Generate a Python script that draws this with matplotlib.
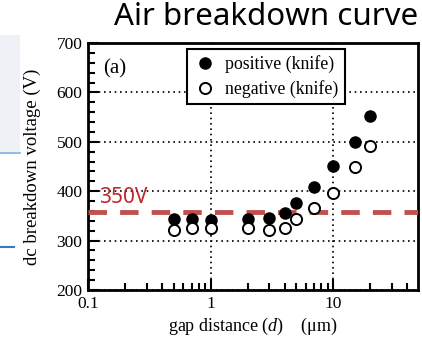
import matplotlib
matplotlib.use("Agg")
import matplotlib.pyplot as plt
from matplotlib.patches import Rectangle
from matplotlib.lines import Line2D
from matplotlib.ticker import LogLocator, MultipleLocator, FixedLocator, FixedFormatter

# data
gap_um = [0.5, 0.7, 1.0, 2.0, 3.0, 4.0, 5.0, 7.0, 10.0, 15.0, 20.0]
v_positive = [344, 344, 342, 344, 346, 356, 377, 408, 452, 500, 553]
v_negative = [321, 325, 325, 325, 321, 325, 343, 365, 396, 450, 492]
threshold_v = 357
threshold_label = "350V"

xticks = [0.1, 1, 10]
xtick_labels = ["0.1", "1", "10"]

plt.rcParams["mathtext.fontset"] = "custom"
plt.rcParams["mathtext.it"] = "Liberation Serif:italic"
plt.rcParams["mathtext.rm"] = "Liberation Serif"

W, H = 422, 339
fig = plt.figure(figsize=(W / 100, H / 100), dpi=100)
ax = fig.add_axes([88 / W, 1 - 290 / H, 330 / W, 247 / H])

serif = ["Liberation Serif", "DejaVu Serif"]

ax.plot(gap_um, v_positive, "o", color="black", markersize=8,
        label="positive (knife)", zorder=4)
ax.plot(gap_um, v_negative, "o", markerfacecolor="white", markeredgecolor="black",
        markeredgewidth=1.4, markersize=8, label="negative (knife)", zorder=4)

ax.axhline(threshold_v, color="#c0504d", lw=3.5, dashes=(3.8, 2.7), zorder=3)
ax.text(0.123, threshold_v + 8, threshold_label, color="#c0282d", fontsize=15,
        family="Noto Sans", va="bottom", ha="left")

ax.set_xscale("log")
ax.set_xlim(0.1, 49)
ax.set_ylim(200, 700)
ax.xaxis.set_major_locator(FixedLocator(xticks))
ax.xaxis.set_major_formatter(FixedFormatter(xtick_labels))
ax.xaxis.set_minor_locator(LogLocator(base=10, subs=range(2, 10)))
ax.xaxis.set_minor_formatter(plt.NullFormatter())
ax.yaxis.set_major_locator(MultipleLocator(100))
ax.yaxis.set_minor_locator(MultipleLocator(20))

ax.grid(True, which="major", color="black", linestyle=(0, (1, 2.2)), lw=1.2)
ax.set_axisbelow(True)

ax.tick_params(which="both", direction="in", top=False, right=False, width=1.5)
ax.tick_params(which="major", length=8, labelsize=12.5, pad=4)
ax.tick_params(which="minor", length=5)
for lab in ax.get_xticklabels() + ax.get_yticklabels():
    lab.set_family(serif)
for sp in ax.spines.values():
    sp.set_linewidth(2)

ax.set_ylabel("dc breakdown voltage (V)", family=serif, fontsize=13.5, labelpad=11)
ax.set_xlabel("gap distance ($\\it{d}$)    (\u03bcm)", family=serif, fontsize=13, labelpad=3)
ax.text(0.045, 0.935, "(a)", transform=ax.transAxes, family=serif, fontsize=15,
        va="top", ha="left")

leg = ax.legend(loc="upper left", bbox_to_anchor=(187 / W, 1 - 49 / H),
                bbox_transform=fig.transFigure, prop={"family": serif, "size": 12.8},
                fancybox=False, frameon=True, borderpad=0.35, handletextpad=0.5,
                labelspacing=0.4, handlelength=1.3, borderaxespad=0)
leg.get_frame().set_edgecolor("black")
leg.get_frame().set_linewidth(1.5)
leg.get_frame().set_alpha(1)

fig.text(418 / W, 1 - 2 / H, "Air breakdown curve", ha="right", va="top",
         fontsize=22.5, family="Noto Sans")

# bits of the neighbouring slide content at the left edge
fig.patches.append(Rectangle((0, 1 - 153 / H), 20 / W, 118 / H, transform=fig.transFigure,
                             facecolor="#eef2f6", edgecolor="none", zorder=0))
fig.lines.append(Line2D([0, 20 / W], [1 - 153 / H] * 2, transform=fig.transFigure,
                        color="#7fb2e0", lw=1.2))
fig.lines.append(Line2D([0, 14 / W], [1 - 247 / H] * 2, transform=fig.transFigure,
                        color="#3a78c0", lw=1.5))

fig.savefig("out.png", dpi=100)
